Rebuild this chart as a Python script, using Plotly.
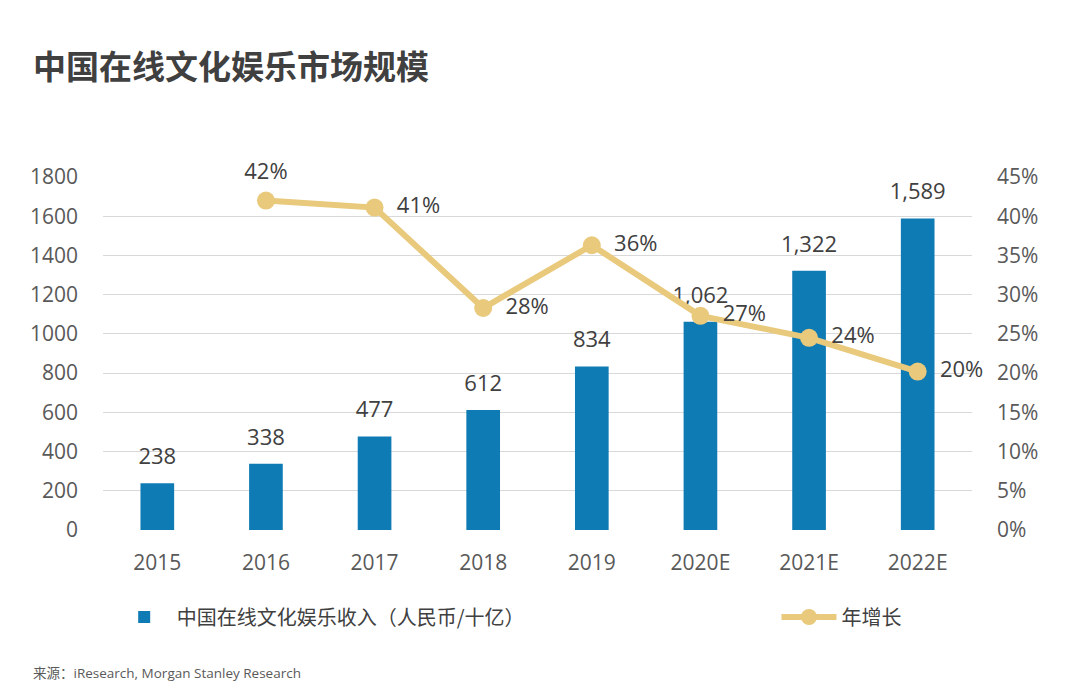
import plotly.graph_objects as go

years = ["2015", "2016", "2017", "2018", "2019", "2020E", "2021E", "2022E"]
revenue = [238, 338, 477, 612, 834, 1062, 1322, 1589]
revenue_labels = ["238", "338", "477", "612", "834", "1,062", "1,322", "1,589"]
growth_years = ["2016", "2017", "2018", "2019", "2020E", "2021E", "2022E"]
growth = [0.420, 0.411, 0.283, 0.363, 0.273, 0.245, 0.202]
growth_labels = ["42%", "41%", "28%", "36%", "27%", "24%", "20%"]
growth_pos = ["top center", "middle right", "middle right", "middle right",
              "middle right", "middle right", "middle right"]
growth_label_gap = [24, 34, 34, 34, 34, 34, 34]

FONT = "Open Sans, Noto Sans CJK SC, sans-serif"
CJK = "Noto Sans CJK SC, sans-serif"
BAR = "#0F7BB4"
LINE = "#E9C97B"
TXT = "#404040"
AX = "#595959"
CLEAR = "rgba(0,0,0,0)"

fig = go.Figure()
fig.add_trace(go.Bar(
    x=years, y=revenue, name="中国在线文化娱乐收入（人民币/十亿）",
    marker=dict(color=BAR, line=dict(width=0)), width=0.31,
    legend="legend", hoverinfo="skip",
))
# bar value labels (invisible markers give the label offset)
fig.add_trace(go.Scatter(
    x=years, y=revenue, mode="markers+text", showlegend=False,
    marker=dict(color=CLEAR, size=20, line=dict(width=0, color=CLEAR)),
    text=revenue_labels, textposition="top center", cliponaxis=False,
    textfont=dict(family=FONT, size=22, color=TXT), hoverinfo="skip",
))
fig.add_trace(go.Scatter(
    x=growth_years, y=growth, name="年增长", yaxis="y2", mode="lines+markers",
    line=dict(color=LINE, width=6), marker=dict(color=LINE, size=18),
    cliponaxis=False, legend="legend2",
))
# growth labels
fig.add_trace(go.Scatter(
    x=growth_years, y=growth, yaxis="y2", mode="markers+text", showlegend=False,
    marker=dict(color=CLEAR, size=growth_label_gap, line=dict(width=0, color=CLEAR)),
    text=growth_labels, textposition=growth_pos, cliponaxis=False,
    textfont=dict(family=FONT, size=22, color=TXT), hoverinfo="skip",
))

fig.update_layout(
    width=1080, height=698,
    paper_bgcolor="white", plot_bgcolor="white",
    margin=dict(l=95, r=116, t=169, b=176, autoexpand=False),
    font=dict(family=FONT, color=AX),
    showlegend=True,
    legend=dict(orientation="h", x=0.010, y=-0.2465, xanchor="left", yanchor="middle",
                font=dict(family=CJK, size=20, color=TXT), itemwidth=55,
                bgcolor="rgba(0,0,0,0)"),
    legend2=dict(orientation="h", x=0.775, y=-0.2465, xanchor="left", yanchor="middle",
                 font=dict(family=CJK, size=20, color=TXT), itemwidth=55,
                 bgcolor="rgba(0,0,0,0)"),
    xaxis=dict(type="category", range=[-0.5, len(years) - 0.5], showgrid=False,
               showline=False, zeroline=False,
               tickfont=dict(family=FONT, size=21, color=AX), ticks="",
               ticklabelstandoff=18),
    yaxis=dict(range=[0, 1800], dtick=200, showgrid=True, gridcolor="#D9D9D9",
               gridwidth=1.3, zeroline=False, showline=False,
               tickfont=dict(family=FONT, size=21, color=AX), ticklabelstandoff=24),
    yaxis2=dict(range=[0, 0.45], dtick=0.05, tickformat=".0%", overlaying="y",
                side="right", showgrid=False, zeroline=False, showline=False,
                tickfont=dict(family=FONT, size=21, color=AX), ticklabelstandoff=24),
    annotations=[
        dict(text="<b>中国在线文化娱乐市场规模</b>", xref="paper", yref="paper",
             x=-0.083, y=1.317, xanchor="left", yanchor="middle", showarrow=False,
             font=dict(family=CJK, size=33, color=TXT)),
        dict(text="来源：iResearch, Morgan Stanley Research", xref="paper", yref="paper",
             x=-0.083, y=-0.405, xanchor="left", yanchor="middle", showarrow=False,
             font=dict(family=FONT, size=13.5, color=AX)),
    ],
)

fig.write_html("out.html")
